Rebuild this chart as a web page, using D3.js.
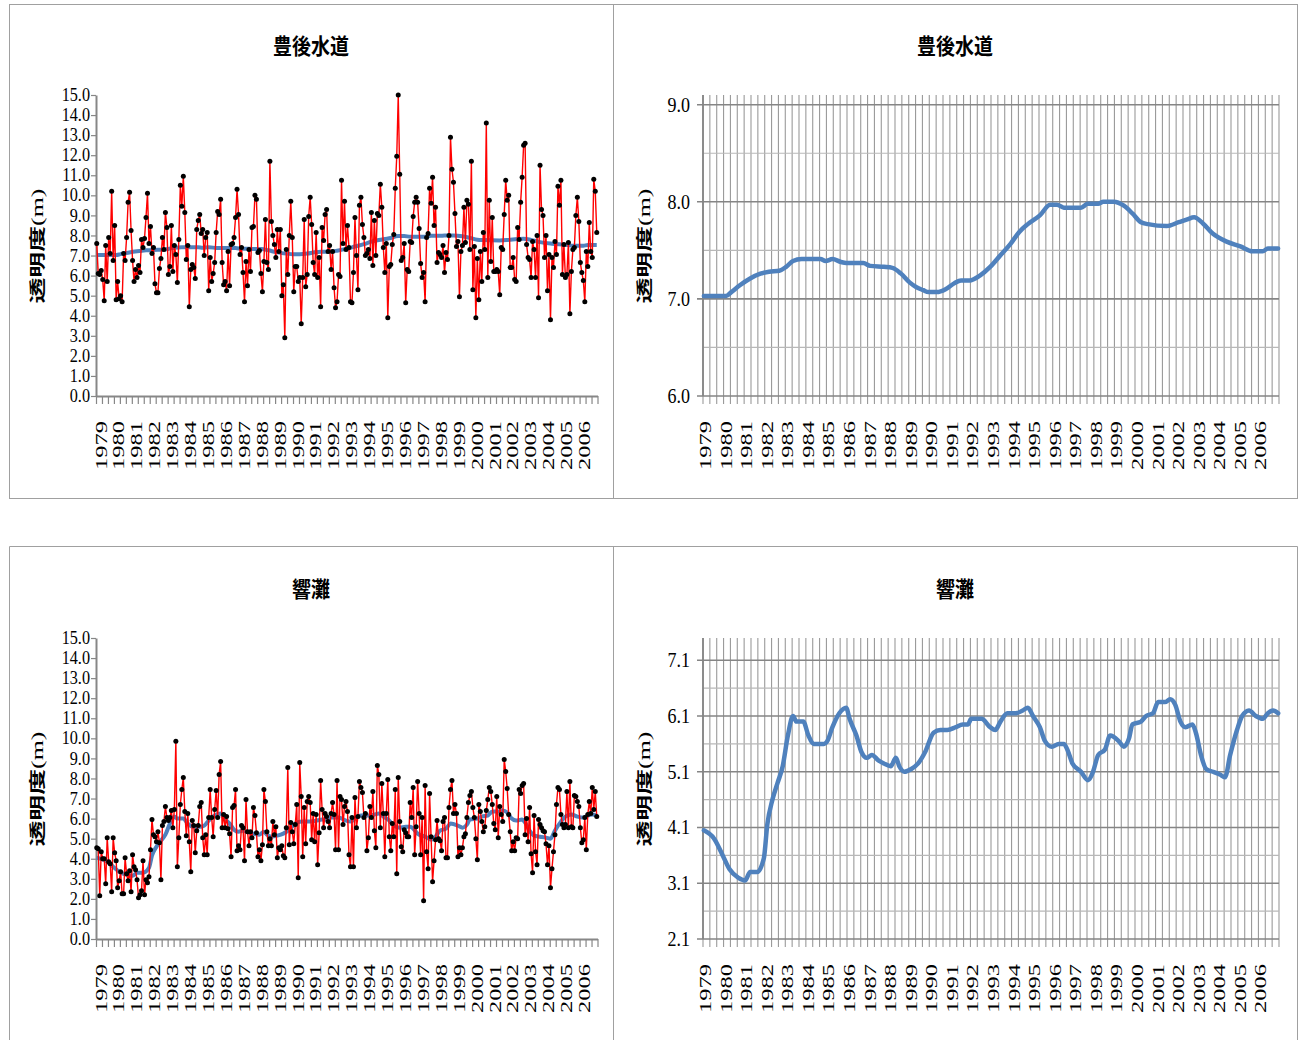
<!DOCTYPE html>
<html><head><meta charset="utf-8">
<script src="https://cdn.jsdelivr.net/npm/d3@7"></script>
<style>body{margin:0;background:#fff}svg{display:block}</style>
</head><body>
<svg id="c" width="1299" height="1040"></svg>
<script>
// ---------------- DATA ----------------
const yearLabels = ["1979","1980","1981","1982","1983","1984","1985","1986","1987","1988","1989","1990","1991","1992","1993","1994","1995","1996","1997","1998","1999","2000","2001","2002","2003","2004","2005","2006"];
const leftYTicks = [0,1,2,3,4,5,6,7,8,9,10,11,12,13,14,15];
const bungoYTicks = [6,7,8,9];
const bungoYMinor = [6.5,7.5,8.5];
const hibikiYTicks = [2.1,3.1,4.1,5.1,6.1,7.1];
const hibikiYMinor = [2.6,3.6,4.6,5.6,6.6];

// 豊後水道 monthly transparency (m), Jan 1979 - Dec 2006
const bungoMonthly = [
7.6,6.1,6.05,6.25,5.8,4.75,7.5,5.7,7.9,7.1,10.2,6.75,
8.5,4.8,5.7,4.85,5.0,4.7,7.1,6.75,7.9,9.65,10.15,8.25,
6.75,5.7,6.3,5.9,6.5,6.15,7.8,7.4,7.85,8.9,10.1,7.6,
8.45,7.1,7.4,5.6,5.15,5.15,6.35,6.85,7.9,7.3,9.15,8.4,
6.05,6.45,8.5,6.2,7.5,7.05,5.65,7.8,10.5,9.45,10.95,9.15,
6.8,7.5,4.45,6.3,6.55,6.4,5.85,8.3,8.75,9.05,8.1,8.3,
7.0,7.9,8.15,5.25,6.9,5.7,6.1,6.65,8.15,9.2,9.05,9.8,6.65,
5.55,5.7,5.25,7.2,5.5,7.55,7.6,7.9,8.9,10.3,9.05,7.05,
7.4,6.15,4.7,6.7,5.5,7.3,6.2,8.4,8.45,10.0,9.8,7.15,
7.25,6.1,5.2,6.7,8.8,6.65,6.3,11.7,8.7,8.0,7.55,6.9,8.3,
7.2,8.3,5.0,5.55,2.9,7.3,6.05,8.0,9.7,7.9,5.2,6.45,
6.45,5.7,5.9,3.6,5.9,
8.8,5.45,6.05,8.95,9.9,8.55,6.65,6.05,8.15,5.9,
6.9,4.45,8.4,7.75,9.05,9.3,7.2,7.5,6.3,7.2,
5.4,4.4,4.7,6.05,5.95,10.75,7.6,9.7,7.3,8.5,
7.4,4.7,4.65,6.15,8.9,7.0,5.3,9.5,9.9,8.55,
7.9,7.0,7.1,7.3,6.85,9.15,6.5,8.75,7.0,9.1,
9.0,10.55,9.4,7.4,6.15,7.6,3.9,6.45,6.55,7.55,
8.05,10.35,11.95,15.0,11.05,6.75,6.9,7.6,4.65,6.3,
6.2,7.7,7.65,8.95,9.65,9.9,9.65,8.35,6.6,
5.9,6.15,4.7,7.9,8.1,10.35,9.6,10.9,8.5,9.4,
6.65,7.15,7.05,6.9,7.5,6.15,7.15,6.8,8.0,12.9,
11.3,10.65,9.1,7.45,7.7,4.95,7.2,7.5,9.4,7.65,
9.75,9.55,7.3,11.7,5.3,7.45,3.9,6.85,4.8,7.2,
5.7,8.15,7.3,13.6,5.9,9.75,6.7,8.9,6.2,6.2,
6.3,6.2,5.05,7.4,7.3,9.05,10.75,9.75,10.0,6.4,
6.4,6.9,5.8,5.7,8.4,7.8,9.65,10.9,12.5,12.6,
7.55,6.9,6.8,5.9,7.7,7.3,5.9,8.0,4.9,11.5,
9.3,9.0,6.9,8.0,5.25,7.05,3.8,6.9,6.4,7.7,
7.05,10.45,9.5,10.75,6.05,7.55,5.9,6.05,7.65,4.1,
6.2,7.3,7.4,9.0,9.9,8.7,6.65,6.15,5.75,4.7,
7.2,6.45,8.65,7.2,6.9,10.8,10.2,8.15
];
// 豊後水道 smoothed trend: month index (0 = Jan 1979) and value
const bungoSmoothMonth = [0,13,16,21,27,33,38,44,48,52,57,68,71,75,80,83,93,97,105,110,115,120,124,128,131,136,141,146,150,155,161,167,173,179,184,189,196,202,206,210,220,224,230,233,239,245,250,255,259,270,277,282,286,291,297,305,313,320,326,329,335];
const bungoSmoothValue = [7.03,7.03,7.07,7.14,7.21,7.26,7.28,7.29,7.33,7.39,7.41,7.41,7.39,7.41,7.38,7.37,7.37,7.34,7.33,7.32,7.26,7.17,7.12,7.09,7.07,7.07,7.10,7.16,7.19,7.19,7.24,7.33,7.45,7.57,7.69,7.77,7.86,7.97,7.97,7.94,7.94,7.98,7.98,8.0,8.0,7.96,7.88,7.79,7.77,7.75,7.79,7.82,7.84,7.78,7.67,7.59,7.54,7.49,7.49,7.52,7.52];

// 響灘 monthly transparency (m)
const hibikiMonthly = [
4.55,4.5,2.15,4.35,4.0,4.0,2.75,5.05,3.85,3.75,2.35,5.05,
4.3,3.9,2.55,2.9,3.35,2.25,2.25,4.05,3.25,2.9,3.4,2.35,
4.2,3.6,3.45,2.95,2.05,2.2,2.4,3.9,2.2,2.95,2.8,3.1,
4.45,5.95,5.2,5.1,4.85,5.35,4.8,2.95,5.65,5.85,6.6,6.05,
5.9,6.05,6.4,5.55,6.45,9.85,3.6,5.05,6.7,7.45,8.05,6.35,
5.15,6.25,4.85,3.35,5.9,5.65,4.3,5.4,5.65,6.6,6.8,5.05,
4.2,5.2,4.2,6.05,7.45,6.05,5.1,6.45,7.4,6.05,8.2,8.85,
5.55,6.2,5.55,6.1,5.5,5.25,4.1,6.55,6.65,7.45,4.4,4.65,
4.45,5.65,5.55,3.9,6.95,5.35,4.65,5.35,5.05,6.55,6.15,5.3,
4.1,4.45,3.9,4.7,7.45,6.85,5.35,4.65,5.0,4.65,5.85,5.2,
5.6,4.05,4.55,4.45,4.65,4.15,4.05,5.55,8.55,4.7,5.8,5.35,
4.75,5.7,6.7,3.05,
8.8,7.1,4.1,6.55,4.75,6.85,7.1,6.8,4.95,6.25,
4.85,6.2,3.7,5.3,7.9,6.45,5.55,6.25,6.1,5.85,
5.55,6.25,6.8,6.2,4.45,7.9,4.45,7.1,6.95,5.7,
6.6,6.85,6.35,4.2,3.6,6.05,3.6,7.05,5.55,6.1,
7.85,7.55,7.3,6.05,6.25,4.4,5.05,6.6,6.05,7.35,
5.4,4.55,8.65,8.2,5.55,7.75,6.25,4.1,6.25,7.95,
5.1,4.4,5.75,5.1,7.45,3.25,8.05,5.85,4.6,4.35,
5.45,5.3,5.1,5.1,6.8,6.05,7.55,4.2,5.6,7.85,
6.25,4.2,6.05,1.9,7.65,4.35,3.5,7.25,5.1,2.85,
3.9,4.95,5.9,5.0,4.9,4.4,5.85,6.05,4.05,4.05,
6.55,7.45,7.9,6.25,6.7,6.25,4.1,4.55,4.2,4.55,
5.1,5.25,6.05,6.8,7.15,7.35,6.55,6.05,5.0,3.95,
6.7,6.35,5.85,5.35,5.6,6.4,6.95,7.55,7.35,6.7,
5.75,5.45,7.1,5.05,6.6,6.2,5.85,8.95,8.35,7.5,
6.2,5.35,4.4,4.85,4.4,5.05,5.0,7.45,7.25,7.65,
7.75,5.2,6.0,4.85,6.55,4.25,3.3,6.15,4.35,3.7,
5.95,5.7,5.55,5.4,5.35,4.75,3.7,4.65,2.55,3.5,
4.35,5.2,6.7,7.55,7.45,6.2,5.7,5.55,5.7,7.35,
5.55,7.85,5.6,5.55,7.15,7.1,6.85,6.6,5.55,4.8,
4.95,6.05,4.45,6.2,6.85,6.25,7.55,6.45,7.35,6.1
];
const hibikiSmoothMonth = [0,6,11,15,20,24,27,31,35,37,40,43,46,49,52,54,58,61,64,70,72,75,79,83,85,89,92,95,98,102,105,109,112,114,117,121,125,129,134,138,142,147,151,154,156,162,167,170,173,177,182,186,189,192,196,199,203,207,210,212,215,220,224,227,230,234,237,242,245,248,250,255,258,262,265,269,272,275,278,281,285,287,290,293,297,301,304,307,311,314,318,322,326,329,332,335];
const hibikiSmoothValue = [4.05,3.9,3.6,3.35,3.2,3.15,3.3,3.3,3.55,4.15,4.6,4.9,5.2,5.75,6.1,6.0,6.0,5.75,5.6,5.6,5.65,5.9,6.15,6.25,6.05,5.75,5.45,5.35,5.4,5.3,5.25,5.2,5.35,5.2,5.1,5.15,5.25,5.45,5.8,5.85,5.85,5.9,5.95,5.95,6.05,6.05,5.9,5.85,6.0,6.15,6.15,6.2,6.25,6.1,5.9,5.65,5.55,5.6,5.6,5.5,5.25,5.1,4.95,5.1,5.4,5.5,5.75,5.65,5.55,5.7,5.95,6.0,6.1,6.15,6.35,6.35,6.4,6.3,6.0,5.9,5.95,5.8,5.4,5.15,5.1,5.05,5.0,5.4,5.85,6.1,6.2,6.1,6.05,6.15,6.2,6.15];

// ---------------- DRAWING ----------------
const M = 336;
const svg = d3.select('#c');
const AX = '#878787';
const SERIF = '"Liberation Serif","Times New Roman",serif';
const CJK = '"Noto Sans CJK JP","Noto Sans CJK SC",sans-serif';

svg.append('rect').attr('width',1299).attr('height',1040).attr('fill','#fff');
// panel frames
const fr = svg.append('g').attr('fill','none').attr('stroke','#a0a0a0').attr('stroke-width',1);
fr.append('rect').attr('x',9.5).attr('y',4.5).attr('width',1288).attr('height',494);
fr.append('line').attr('x1',613.5).attr('x2',613.5).attr('y1',4.5).attr('y2',498.5);
fr.append('path').attr('d','M9.5,1041V546.5H1297.5V1041');
fr.append('line').attr('x1',613.5).attr('x2',613.5).attr('y1',546.5).attr('y2',1041);

function title(g, cx, y, txt, len){
  g.append('text').attr('x',cx).attr('y',y).attr('text-anchor','middle')
    .attr('font-family',CJK).attr('font-weight','bold').attr('font-size',22)
    .attr('textLength',len).attr('lengthAdjust','spacingAndGlyphs').text(txt);
}
function yTitle(g, cx, cy){
  const t = g.append('text').attr('transform',`translate(${cx+6},${cy}) rotate(-90)`)
    .attr('text-anchor','middle').attr('font-size',16)
    .attr('textLength',115).attr('lengthAdjust','spacingAndGlyphs');
  t.append('tspan').attr('font-family',CJK).attr('font-weight','bold').text('透明度');
  t.append('tspan').attr('font-family',SERIF).text('(m)');
}
function years(g, x, yEnd, off){
  g.selectAll('.yr').data(yearLabels).join('text')
    .attr('transform',(d,k)=>`translate(${x(k*12)+off+5.5},${yEnd}) rotate(-90)`)
    .attr('text-anchor','end').attr('font-family',SERIF).attr('font-size',16)
    .attr('textLength',49).attr('lengthAdjust','spacingAndGlyphs').text(d=>d);
}
function yLabels(g, y, ticks, xr, fs){
  g.selectAll('.yl').data(ticks).join('text')
    .attr('transform',d=>`translate(${xr},${y(d)}) scale(0.9,1)`)
    .attr('dy','0.34em').attr('text-anchor','end')
    .attr('font-family',SERIF).attr('font-size',fs).text(d=>d.toFixed(1));
}

function leftPanel(c){
  const g = svg.append('g');
  const x = d3.scaleLinear().domain([0,M]).range([96,597.5]);
  const y = d3.scaleLinear().domain([0,15]).range([c.yBottom,c.yTop]);
  title(g, 311, c.titleY, c.title, c.titleLen);
  yTitle(g, 37, c.yTitleCY);
  const ya = g.append('g').attr('transform','translate(96,0)')
    .call(d3.axisLeft(y).tickValues(leftYTicks).tickSize(5).tickSizeOuter(0).tickFormat(''));
  const xa = g.append('g').attr('transform',`translate(0,${c.yBottom})`)
    .call(d3.axisBottom(x).tickValues(d3.range(0,M+1,4)).tickSize(8).tickSizeOuter(0).tickFormat(''));
  [ya,xa].forEach(a=>{a.select('.domain').attr('stroke',AX).attr('stroke-width',2);
    a.selectAll('.tick line').attr('stroke',AX).attr('stroke-width',1.2);});
  yLabels(g, y, leftYTicks, 90, 18);
  years(g, x, c.yBottom+25, 5);
  g.append('path').datum(c.sm.map((m,k)=>[m,c.sv[k]]))
    .attr('fill','none').attr('stroke','#4f81bd').attr('stroke-width',4).attr('stroke-linejoin','round')
    .attr('d', d3.line().x(d=>x(d[0]+0.5)).y(d=>y(d[1])).curve(d3.curveMonotoneX));
  g.append('path').datum(c.values)
    .attr('fill','none').attr('stroke','#ff0000').attr('stroke-width',1.4).attr('stroke-linejoin','round')
    .attr('d', d3.line().x((d,i)=>x(i+0.5)).y(d=>y(d)));
  g.selectAll('.pt').data(c.values).join('circle')
    .attr('cx',(d,i)=>x(i+0.5)).attr('cy',d=>y(d)).attr('r',2.5).attr('fill','#000');
}

function rightPanel(c){
  const g = svg.append('g');
  const x = d3.scaleLinear().domain([0,M]).range([703,1279]);
  const y = d3.scaleLinear().domain(c.domain).range([c.yBottom,c.yTop]);
  title(g, 955, c.titleY, c.title, c.titleLen);
  yTitle(g, 644, c.yTitleCY);
  g.selectAll('.vg').data(d3.range(0,M+1,4)).join('line')
    .attr('x1',d=>x(d)).attr('x2',d=>x(d)).attr('y1',c.yTop).attr('y2',c.yBottom+8)
    .attr('stroke','#9a9a9a').attr('stroke-width',1.1);
  g.selectAll('.mh').data(c.minor).join('line')
    .attr('x1',703).attr('x2',1279).attr('y1',d=>y(d)).attr('y2',d=>y(d))
    .attr('stroke','#b8b8b8').attr('stroke-width',1.2);
  g.selectAll('.mj').data(c.major).join('line')
    .attr('x1',697).attr('x2',1279).attr('y1',d=>y(d)).attr('y2',d=>y(d))
    .attr('stroke','#858585').attr('stroke-width',1.6);
  g.append('line').attr('x1',703).attr('x2',703).attr('y1',c.yTop).attr('y2',c.yBottom)
    .attr('stroke','#858585').attr('stroke-width',1.8);
  yLabels(g, y, c.major, 690, 20);
  years(g, x, c.yBottom+25, 2.5);
  g.append('path').datum(c.sm.map((m,k)=>[m,c.sv[k]]))
    .attr('fill','none').attr('stroke','#4f81bd').attr('stroke-width',4.5).attr('stroke-linejoin','round').attr('stroke-linecap','round')
    .attr('d', d3.line().x(d=>x(d[0]+0.5)).y(d=>y(d[1])).curve(d3.curveMonotoneX));
}

leftPanel({yTop:95,yBottom:396,titleY:54,title:'豊後水道',titleLen:76,yTitleCY:246,
  values:bungoMonthly,sm:bungoSmoothMonth,sv:bungoSmoothValue});
rightPanel({yTop:95,yBottom:396,domain:[6,9.1],major:bungoYTicks,minor:bungoYMinor,titleY:54,title:'豊後水道',titleLen:76,yTitleCY:246,
  sm:bungoSmoothMonth,sv:bungoSmoothValue});
leftPanel({yTop:638,yBottom:939,titleY:597,title:'響灘',titleLen:38,yTitleCY:789,
  values:hibikiMonthly,sm:hibikiSmoothMonth,sv:hibikiSmoothValue});
rightPanel({yTop:638,yBottom:939,domain:[2.1,7.5],major:hibikiYTicks,minor:hibikiYMinor,titleY:597,title:'響灘',titleLen:38,yTitleCY:789,
  sm:hibikiSmoothMonth,sv:hibikiSmoothValue});
</script>
</body></html>
